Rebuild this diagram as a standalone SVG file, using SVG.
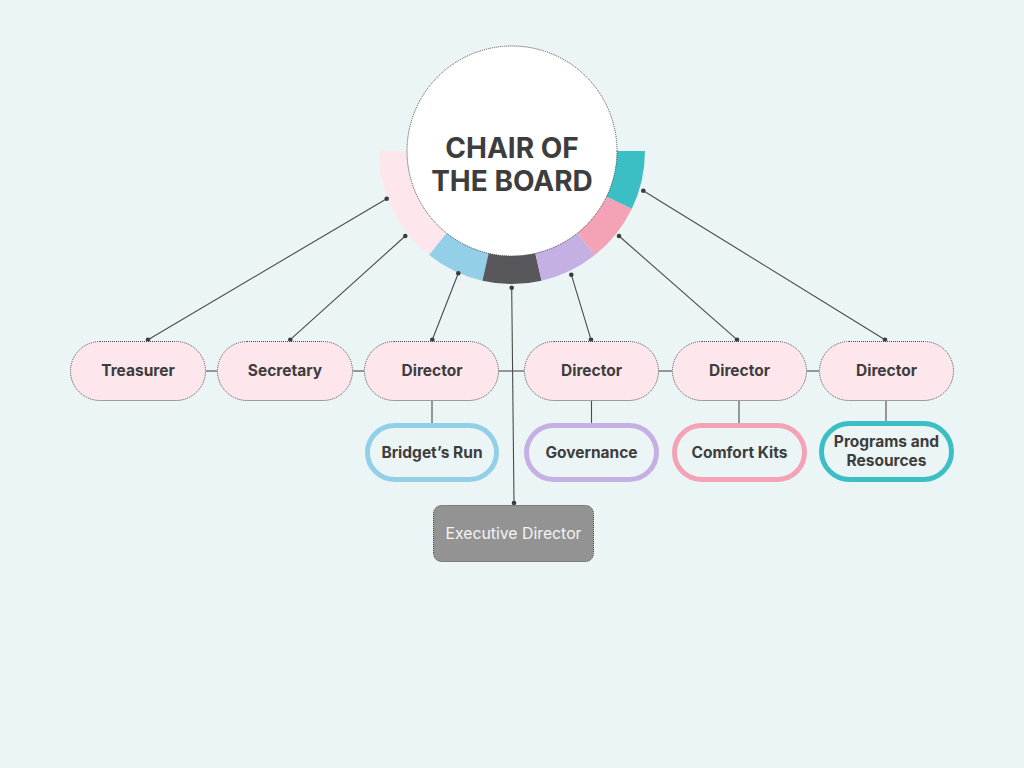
<svg xmlns="http://www.w3.org/2000/svg" width="1024" height="768" viewBox="0 0 1024 768">
<style>
.pill{fill:#fde6ec;stroke:#4a4a4a;stroke-width:1;stroke-dasharray:1 1}
.sub{fill:#ecf5f5;stroke-width:5}
.lbl{font-family:Inter,"Liberation Sans",sans-serif;font-weight:700;font-size:15.5px;fill:#3d3d3d;text-anchor:middle}
.ln{stroke:#4a4a4a;stroke-width:1.1;fill:none}
.dot{fill:#3d3d3d}
</style>
<rect width="1024" height="768" fill="#ecf5f5"/>
<g id="ring">
<path d="M379,151 A133,133 0 0 0 429.07,254.98 L449.65,229.18 A100,100 0 0 1 412,151 Z" fill="#fde6ec"/>
<path d="M429.07,254.98 A133,133 0 0 0 482.41,280.66 L489.75,248.49 A100,100 0 0 1 449.65,229.18 Z" fill="#93cfe6"/>
<path d="M482.41,280.66 A133,133 0 0 0 541.59,280.66 L534.25,248.49 A100,100 0 0 1 489.75,248.49 Z" fill="#58575c"/>
<path d="M541.59,280.66 A133,133 0 0 0 594.93,254.98 L574.35,229.18 A100,100 0 0 1 534.25,248.49 Z" fill="#c5b0e3"/>
<path d="M594.93,254.98 A133,133 0 0 0 631.83,208.71 L602.10,194.39 A100,100 0 0 1 574.35,229.18 Z" fill="#f4a3b6"/>
<path d="M631.83,208.71 A133,133 0 0 0 645,151 L612,151 A100,100 0 0 1 602.10,194.39 Z" fill="#3cbfc4"/>
</g>
<g id="connectors">
<line class="ln" x1="386.7" y1="198.7" x2="148" y2="339.7"/>
<line class="ln" x1="405.3" y1="236" x2="290.3" y2="339.7"/>
<line class="ln" x1="458.3" y1="273.3" x2="432.3" y2="339.7"/>
<line class="ln" x1="511.7" y1="287.7" x2="514" y2="503"/>
<line class="ln" x1="571.3" y1="274.7" x2="591" y2="339.7"/>
<line class="ln" x1="619" y1="236" x2="737" y2="339.7"/>
<line class="ln" x1="643.3" y1="190.7" x2="885" y2="339.7"/>
<line class="ln" x1="206" y1="371" x2="217" y2="371"/>
<line class="ln" x1="353" y1="371" x2="364" y2="371"/>
<line class="ln" x1="499" y1="371" x2="524" y2="371"/>
<line class="ln" x1="659" y1="371" x2="672" y2="371"/>
<line class="ln" x1="807" y1="371" x2="819" y2="371"/>
<line class="ln" x1="432" y1="401" x2="432" y2="423"/>
<line class="ln" x1="591.5" y1="401" x2="591.5" y2="423"/>
<line class="ln" x1="739" y1="401" x2="739" y2="423"/>
<line class="ln" x1="886" y1="401" x2="886" y2="421"/>
<circle class="dot" cx="386.7" cy="198.7" r="2.3"/>
<circle class="dot" cx="148" cy="339.7" r="2.3"/>
<circle class="dot" cx="405.3" cy="236" r="2.3"/>
<circle class="dot" cx="290.3" cy="339.7" r="2.3"/>
<circle class="dot" cx="458.3" cy="273.3" r="2.3"/>
<circle class="dot" cx="432.3" cy="339.7" r="2.3"/>
<circle class="dot" cx="511.7" cy="287.7" r="2.3"/>
<circle class="dot" cx="514" cy="503" r="2.3"/>
<circle class="dot" cx="571.3" cy="274.7" r="2.3"/>
<circle class="dot" cx="591" cy="339.7" r="2.3"/>
<circle class="dot" cx="619" cy="236" r="2.3"/>
<circle class="dot" cx="737" cy="339.7" r="2.3"/>
<circle class="dot" cx="643.3" cy="190.7" r="2.3"/>
<circle class="dot" cx="885" cy="339.7" r="2.3"/>
</g>
<g id="chair">
<circle cx="512" cy="151" r="105" fill="#ffffff" stroke="#4a4a4a" stroke-width="1" stroke-dasharray="1 1"/>
<text class="lbl" x="512" y="158" style="font-size:28px">CHAIR OF</text>
<text class="lbl" x="512" y="191" style="font-size:28px">THE BOARD</text>
</g>
<g id="treasurer">
<rect class="pill" x="70.5" y="341.5" width="135" height="59" rx="29.5"/>
<text class="lbl" x="138" y="376">Treasurer</text>
</g>
<g id="secretary">
<rect class="pill" x="217.5" y="341.5" width="135" height="59" rx="29.5"/>
<text class="lbl" x="285" y="376">Secretary</text>
</g>
<g id="director1">
<rect class="pill" x="364.5" y="341.5" width="134" height="59" rx="29.5"/>
<text class="lbl" x="432" y="376">Director</text>
</g>
<g id="director2">
<rect class="pill" x="524.5" y="341.5" width="134" height="59" rx="29.5"/>
<text class="lbl" x="591.5" y="376">Director</text>
</g>
<g id="director3">
<rect class="pill" x="672.5" y="341.5" width="134" height="59" rx="29.5"/>
<text class="lbl" x="739.5" y="376">Director</text>
</g>
<g id="director4">
<rect class="pill" x="819.5" y="341.5" width="134" height="59" rx="29.5"/>
<text class="lbl" x="886.5" y="376">Director</text>
</g>
<g id="bridgets-run">
<rect class="sub" x="367.5" y="425.5" width="129" height="54" rx="27" stroke="#93cfe6"/>
<text class="lbl" x="432" y="457.5">Bridget’s Run</text>
</g>
<g id="governance">
<rect class="sub" x="526.5" y="425.5" width="130" height="54" rx="27" stroke="#c5b0e3"/>
<text class="lbl" x="591.5" y="457.5">Governance</text>
</g>
<g id="comfort-kits">
<rect class="sub" x="674.5" y="425.5" width="130" height="54" rx="27" stroke="#f4a3b6"/>
<text class="lbl" x="739.5" y="457.5">Comfort Kits</text>
</g>
<g id="programs">
<rect class="sub" x="821.5" y="423.5" width="130" height="56" rx="28" stroke="#3cbfc4"/>
<text class="lbl" x="886.5" y="447">Programs and</text>
<text class="lbl" x="886.5" y="466">Resources</text>
</g>
<g id="executive-director">
<rect x="433.5" y="505.5" width="160" height="56" rx="8" fill="#939393" stroke="#3d3d3d" stroke-width="1" stroke-dasharray="1 1"/>
<text x="513.5" y="538.5" font-family="Inter,'Liberation Sans',sans-serif" font-size="15.8" fill="#f4f4f4" text-anchor="middle">Executive Director</text>
</g>
</svg>
